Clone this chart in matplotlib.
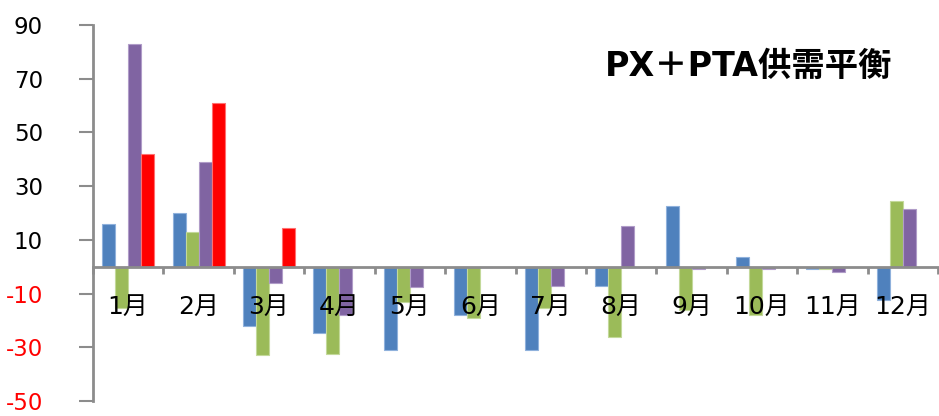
import numpy as np
import matplotlib
matplotlib.use('Agg')
import matplotlib.pyplot as plt

plt.rcParams['font.family'] = ['DejaVu Sans', 'Noto Sans CJK SC']

# -------------------------
# DATA
# -------------------------
months = ['1月', '2月', '3月', '4月', '5月', '6月', '7月', '8月', '9月', '10月', '11月', '12月']
s_blue = [16, 20, -22, -24.5, -31, -18, -31, -7, 22.5, 3.5, -1, -12.5]
s_green = [-15.5, 13, -33, -32.5, -13, -19, -15.5, -26, -16, -18, -0.8, 24.5]
s_purple = [83, 39, -6, -18, -7.5, 0, -7, 15, -1, -1, -1.8, 21.5]
s_red = [42, 61, 14.5, np.nan, np.nan, np.nan, np.nan, np.nan, np.nan, np.nan, np.nan, np.nan]
yticks = [-50, -30, -10, 10, 30, 50, 70, 90]
title = 'PX＋PTA供需平衡'

series = [s_blue, s_green, s_purple, s_red]
colors = ['#4F81BD', '#9BBB59', '#8064A2', '#FF0000']
edges = ['#8FB1DC', '#C3D99A', '#B09CC8', '#FF7070']

# -------------------------
# PLOT
# -------------------------
fig = plt.figure(figsize=(9.39, 4.16), dpi=100, facecolor='w')
ax = fig.add_axes([0.099, 0.036, 0.9, 0.904])

x = np.arange(len(months))
w = 0.185
for i, (vals, c, ec) in enumerate(zip(series, colors, edges)):
    ax.bar(x + (i - 1.5) * w, vals, w, color=c, edgecolor=ec, linewidth=0.8, zorder=1)

ax.set_xlim(-0.5, len(months) - 0.5)
ax.set_ylim(-50, 90)
ax.set_yticks(yticks)
ax.set_yticklabels([str(t) for t in yticks], fontsize=16.5)
for lab, t in zip(ax.get_yticklabels(), yticks):
    if t < 0:
        lab.set_color('red')

for s in ['top', 'right']:
    ax.spines[s].set_visible(False)
ax.spines['bottom'].set_position(('data', 0))
ax.spines['bottom'].set_color('#8C8C8C')
ax.spines['bottom'].set_linewidth(2)
ax.spines['bottom'].set_zorder(3)
ax.spines['left'].set_color('#8C8C8C')
ax.spines['left'].set_linewidth(2)
ax.xaxis.set_zorder(4)

ax.tick_params(axis='y', direction='out', length=10, width=1.5, color='#8C8C8C', pad=26)
ax.set_xticks(x)
ax.set_xticklabels(months, fontsize=18)
ax.tick_params(axis='x', which='major', length=0, pad=20)
ax.set_xticks(np.arange(len(months) + 1) - 0.5, minor=True)
ax.tick_params(axis='x', which='minor', direction='out', length=5, width=2, color='#8C8C8C')

ax.text(0.776, 0.89, title, transform=ax.transAxes, ha='center', va='center',
        fontsize=24, fontweight='bold', zorder=5)

fig.savefig('out.png', dpi=100, facecolor='w')
